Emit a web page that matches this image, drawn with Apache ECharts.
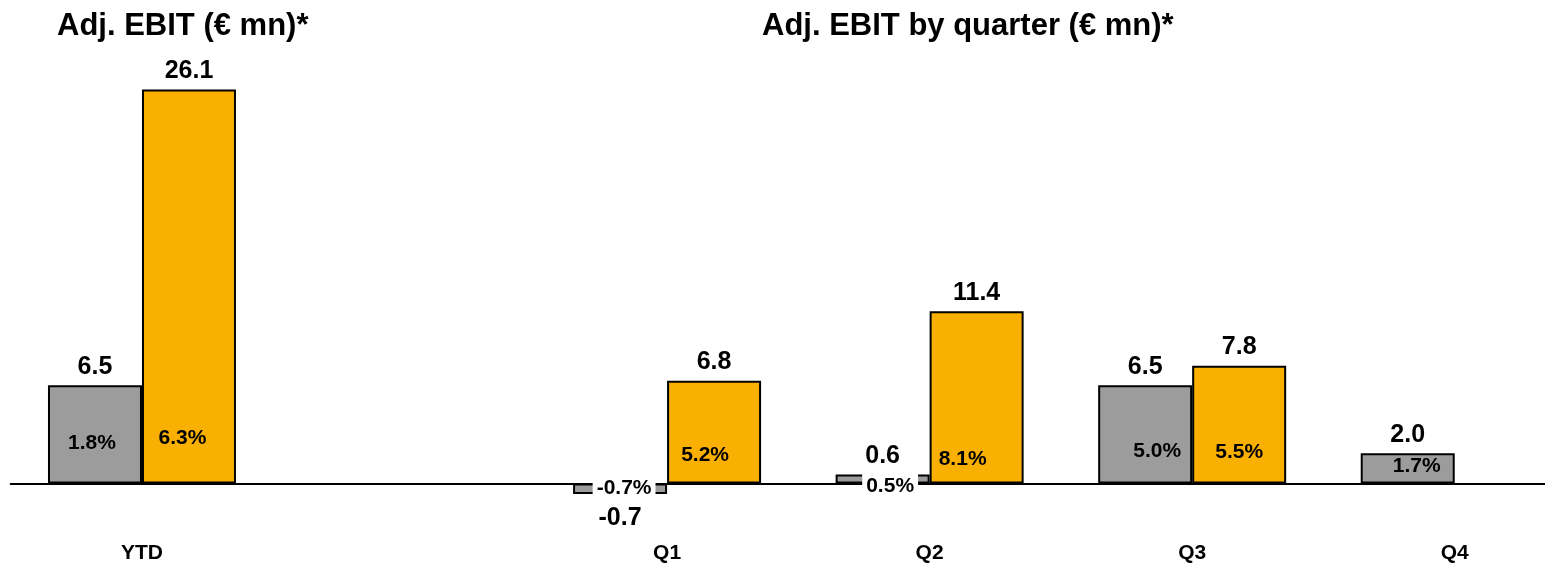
<!DOCTYPE html>
<html>
<head>
<meta charset="utf-8">
<script src="https://cdn.jsdelivr.net/npm/echarts@6/dist/echarts.min.js"></script>
<style>
  html, body { margin: 0; padding: 0; background: #fff; }
  #chart { width: 1545px; height: 564px; }
</style>
</head>
<body>
<div id="chart"></div>
<script>
// Periods: year-to-date, a spacer slot, then the four quarters
const categories = ['YTD', '', 'Q1', 'Q2', 'Q3', 'Q4'];

// Adj. EBIT in € mn
const priorEbit = [6.5, null, -0.7, 0.6, 6.5, 2.0];
const currentEbit = [26.1, null, 6.8, 11.4, 7.8, null];

// Adj. EBIT margin
const priorMargin = ['1.8%', null, '-0.7%', '0.5%', '5.0%', '1.7%'];
const currentMargin = ['6.3%', null, '5.2%', '8.1%', '5.5%', null];

// Margin label placement: [x shift from bar centre, height above zero line] in px
const priorMarginPlace = [[-3, 40], null, [4, -4.5], [7.5, -2.3], [12, 32], [9, 17]];
const currentMarginPlace = [[-6.5, 45.5], null, [-9, 28], [-14, 24], [0, 31.5], null];

const FONT = '"Liberation Sans", Arial, sans-serif';
const GREY = '#9c9c9c';
const ORANGE = '#f9b000';
const BAR_W = 94;

function barData(values) {
  return values.map(v => v === null ? null : {
    value: v,
    label: v < 0 ? { position: 'bottom', distance: 12 } : { position: 'top' }
  });
}

function marginData(labels) {
  const rows = [];
  labels.forEach((t, i) => { if (t !== null) rows.push([i, 0, t]); });
  return rows;
}

function marginSeries(labels, place, side) {
  return {
    type: 'custom',
    data: marginData(labels),
    encode: { x: 0, y: 1 },
    clip: false,
    z: 5,
    renderItem(params, api) {
      const idx = api.value(0);
      const p = api.coord([idx, 0]);
      const sh = place[idx];
      const text = labels[idx];
      const below = sh[1] < 0;
      return {
        type: 'text',
        x: p[0] + side * BAR_W / 2 + sh[0],
        y: p[1] - sh[1],
        style: {
          text: text,
          fill: '#000',
          font: 'bold 21px ' + FONT,
          align: 'center',
          verticalAlign: 'middle',
          backgroundColor: below ? '#fff' : null,
          padding: below ? [4, 4, 2, 4] : 0
        }
      };
    }
  };
}

const valueLabel = {
  show: true,
  distance: 6,
  color: '#000',
  fontFamily: FONT,
  fontWeight: 'bold',
  fontSize: 25,
  formatter: p => p.value.toFixed(1)
};

const chart = echarts.init(document.getElementById('chart'), null, { renderer: 'canvas' });

chart.setOption({
  backgroundColor: '#fff',
  animation: false,
  title: [
    { text: 'Adj. EBIT (€ mn)*', left: 52, top: 6,
      textStyle: { fontFamily: FONT, fontWeight: 'bold', fontSize: 31, color: '#000' } },
    { text: 'Adj. EBIT by quarter (€ mn)*', left: 757, top: 6,
      textStyle: { fontFamily: FONT, fontWeight: 'bold', fontSize: 31, color: '#000' } }
  ],
  // the plot runs past the right edge so the last slot keeps its full width
  grid: { left: 10.7, right: -41, top: 60.7, bottom: 50.3, containLabel: false, outerBoundsMode: 'none' },
  xAxis: [
    {
      // zero line
      type: 'category',
      data: categories,
      axisLine: { onZero: true, lineStyle: { color: '#000', width: 2 } },
      axisTick: { show: false },
      axisLabel: { show: false }
    },
    {
      // period names along the bottom
      type: 'category',
      data: categories,
      position: 'bottom',
      axisLine: { show: false, onZero: false },
      axisTick: { show: false },
      axisLabel: {
        margin: 29,
        color: '#000',
        fontFamily: FONT,
        fontWeight: 'bold',
        fontSize: 21
      }
    }
  ],
  yAxis: {
    type: 'value',
    min: -2,
    max: 28,
    show: false,
    splitLine: { show: false }
  },
  series: [
    {
      type: 'bar',
      data: barData(priorEbit),
      barWidth: BAR_W,
      barGap: '0%',
      itemStyle: { color: GREY, borderColor: '#000', borderWidth: 2 },
      label: valueLabel,
      z: 2
    },
    {
      type: 'bar',
      data: barData(currentEbit),
      barWidth: BAR_W,
      barGap: '0%',
      itemStyle: { color: ORANGE, borderColor: '#000', borderWidth: 2 },
      label: valueLabel,
      z: 2
    },
    marginSeries(priorMargin, priorMarginPlace, -1),
    marginSeries(currentMargin, currentMarginPlace, 1)
  ]
});
</script>
</body>
</html>
